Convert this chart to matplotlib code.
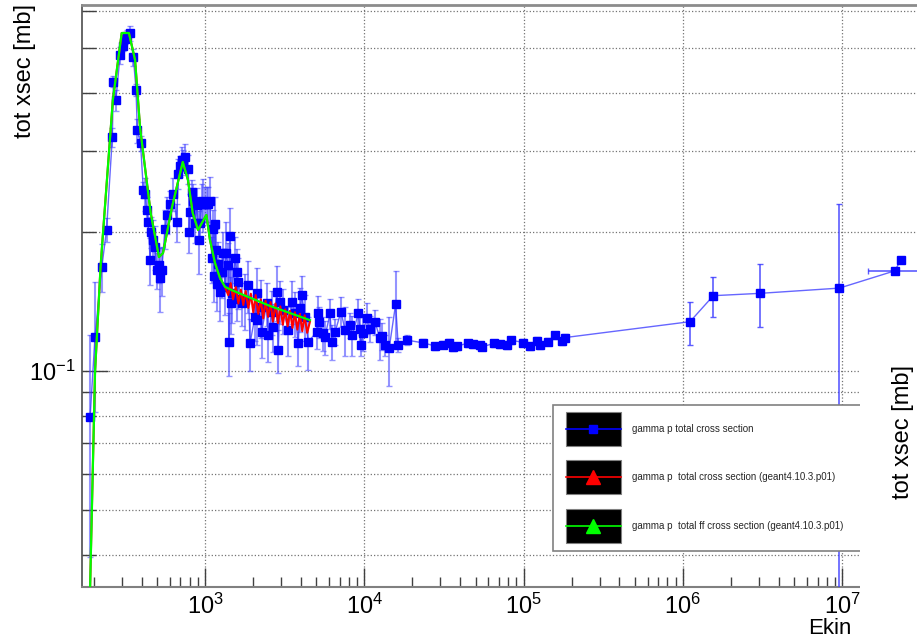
# gamma p total cross section: data vs geant4 (ROOT-like look)
import math
import matplotlib
matplotlib.use("Agg")
import matplotlib.pyplot as plt
import matplotlib.ticker as mticker
from matplotlib.patches import Rectangle
from matplotlib.lines import Line2D

plt.rcParams['font.family'] = ['Liberation Sans', 'DejaVu Sans']
plt.rcParams['mathtext.fontset'] = 'custom'
plt.rcParams['mathtext.rm'] = 'Liberation Sans'
plt.rcParams['mathtext.it'] = 'Liberation Sans:italic'
plt.rcParams['mathtext.default'] = 'regular'

# measured data (MeV, mb)
ekin_meas = [190, 204, 225, 241, 262, 266, 276, 293, 304, 315, 322, 338, 355, 369, 376, 394,
             410, 420, 430, 441, 452, 460, 473, 486, 497, 515, 522, 535, 561, 575, 603, 632,
             664, 680, 697, 714, 725, 749, 786, 796, 805, 825, 845, 865, 887, 921, 930, 953,
             976, 1000, 1025, 1049, 1075, 1102, 1127, 1140, 1156, 1170, 1184, 1212, 1242, 1273,
             1304, 1335, 1345, 1401, 1410, 1435, 1450, 1471, 1543, 1581, 1590, 1619, 1700, 1782,
             1870, 1918, 2058, 2110, 2120, 2263, 2270, 2442, 2500, 2624, 2680, 2822, 2883, 2954,
             3103, 3330, 3500, 3670, 3850, 3950, 4045, 4240, 4450, 5030, 5150, 5160, 5540, 5660,
             6100, 6240, 6560, 7140, 7570, 8120, 8430, 9160, 9400, 9530, 9840, 10330, 10820,
             11670, 12530, 12830, 13470, 14330, 15720, 16330, 18420, 23400, 27900, 31400, 34100,
             36100, 38000, 44600, 48400, 53000, 55100, 65300, 71000, 78400, 83000, 99600, 109500,
             120600, 126500, 143000, 158000, 174000, 183000]
xsec_meas = [0.0795, 0.1186, 0.168, 0.202, 0.321, 0.423, 0.386, 0.483, 0.504, 0.522, 0.532, 0.538,
             0.478, 0.406, 0.332, 0.311, 0.2465, 0.242, 0.2231, 0.2104, 0.1739, 0.200, 0.192,
             0.1856, 0.1655, 0.170, 0.1594, 0.1655, 0.2034, 0.2177, 0.2298, 0.242, 0.2104, 0.2676,
             0.2775, 0.2859, 0.2859, 0.2904, 0.2741, 0.200, 0.2211, 0.2441, 0.2336, 0.209, 0.2287,
             0.192, 0.209, 0.2336, 0.2298, 0.2298, 0.2298, 0.2298, 0.2336, 0.1754, 0.2034, 0.1609,
             0.2076, 0.1826, 0.1546, 0.1705, 0.1484, 0.1641, 0.1797, 0.1522, 0.1797, 0.1695,
             0.1157, 0.1957, 0.1402, 0.1473, 0.1754, 0.164, 0.1435, 0.1561, 0.1402, 0.1425,
             0.1534, 0.1148, 0.1312, 0.1473, 0.1289, 0.1377, 0.1216, 0.1402, 0.1196, 0.1344,
             0.1248, 0.1484, 0.111, 0.1413, 0.1355, 0.1227, 0.1413, 0.1333, 0.1148, 0.1366,
             0.1459, 0.1312, 0.1157, 0.1216, 0.1333, 0.1279, 0.1206, 0.1186, 0.1333, 0.1157,
             0.1216, 0.1344, 0.1227, 0.1257, 0.1196, 0.1333, 0.1236, 0.1138, 0.1206, 0.1301,
             0.1236, 0.1279, 0.1177, 0.1190, 0.1138, 0.1120, 0.1394, 0.1138, 0.1167, 0.1151,
             0.1133, 0.1140, 0.1151, 0.1125, 0.1133, 0.1148, 0.1144, 0.1138, 0.1129, 0.1148,
             0.1142, 0.1138, 0.1167, 0.1153, 0.1133, 0.1163, 0.1138, 0.1157, 0.1196, 0.1161, 0.1182]
err_meas = [0.04, 0.037, 0.02, 0.012, 0.015, 0.012, 0.02, 0.02, 0.012, 0.012, 0.015, 0.02,
            0.02, 0.012, 0.02, 0.012, 0.01, 0.02, 0.015, 0.01, 0.02, 0.015, 0.02, 0.02, 0.015,
            0.015, 0.025, 0.02, 0.02, 0.02, 0.015, 0.02, 0.02, 0.02, 0.015, 0.02, 0.015, 0.02,
            0.02, 0.02, 0.02, 0.015, 0.02, 0.02, 0.02, 0.03, 0.02, 0.02, 0.03, 0.02, 0.02, 0.02,
            0.03, 0.02, 0.02, 0.02, 0.03, 0.02, 0.02, 0.02, 0.02, 0.02, 0.02, 0.02, 0.03, 0.02,
            0.018, 0.03, 0.02, 0.02, 0.02, 0.02, 0.015, 0.02, 0.015, 0.02, 0.02, 0.015, 0.015,
            0.02, 0.015, 0.02, 0.015, 0.015, 0.015, 0.015, 0.015, 0.02, 0.012, 0.015, 0.015,
            0.015, 0.015, 0.015, 0.012, 0.015, 0.015, 0.015, 0.015, 0.01, 0.012, 0.01, 0.01,
            0.01, 0.01, 0.01, 0.008, 0.01, 0.015, 0.008, 0.012, 0.01, 0.008, 0.006, 0.01, 0.01,
            0.008, 0.008, 0.012, 0.008, 0.006, 0.019, 0.025, 0.004, 0.003, 0.002, 0.002, 0.002,
            0.002, 0.002, 0.002, 0.002, 0.002, 0.002, 0.002, 0.002, 0.002, 0.002, 0.002, 0.002,
            0.002, 0.002, 0.002, 0.002, 0.002, 0.002, 0.002]

# high energy points, asymmetric errors
ekin_high = [1.108e6, 1.553e6, 3.05e6, 9.6e6, 2.14e7, 2.33e7]
xsec_high = [0.1279, 0.1456, 0.1473, 0.1512, 0.1648, 0.1739]
yerr_high_lo = [0.0141, 0.015, 0.023, 0.14, 0.0, 0.0]
yerr_high_hi = [0.013, 0.0144, 0.0229, 0.0783, 0.0, 0.0]
xerr_high_lo = [0, 0, 0, 0, 0.68e7, 0]
xerr_high_hi = [0, 0, 0, 0, 1.0e7, 0]

# geant4 total ff cross section
ekin_ff = [180, 190, 204, 221, 229, 264, 300, 333, 364, 391, 420, 456, 514, 545, 621, 725,
           782, 837, 904, 1020, 1075, 1156, 1242, 1335, 1471, 2560, 4560]
xsec_ff = [0.02, 0.034, 0.0995, 0.168, 0.199, 0.386, 0.539, 0.539, 0.471, 0.337, 0.276, 0.220,
           0.1765, 0.180, 0.2265, 0.2835, 0.259, 0.220, 0.202, 0.2177, 0.192, 0.1713, 0.159,
           0.1522, 0.1497, 0.1383, 0.1289]

# geant4 total cross section
ekin_g4 = [180, 190, 204, 221, 229, 264, 300, 333, 364, 391, 420, 456, 514, 545, 621, 725,
           782, 837, 904, 1020, 1075, 1156, 1242, 1335, 1400, 1450, 1500, 1560, 1620, 1680,
           1740, 1800, 1870, 1940, 2010, 2080, 2160, 2240, 2320, 2400, 2490, 2580, 2670, 2770,
           2870, 2970, 3080, 3190, 3300, 3420, 3540, 3670, 3800, 3940, 4080, 4220, 4380, 4560]
xsec_g4 = [0.02, 0.034, 0.0995, 0.168, 0.199, 0.386, 0.539, 0.539, 0.471, 0.337, 0.276, 0.220,
           0.1765, 0.180, 0.2265, 0.2835, 0.259, 0.220, 0.202, 0.2177, 0.192, 0.1713, 0.159,
           0.152, 0.146, 0.155, 0.143, 0.152, 0.140, 0.150, 0.139, 0.149, 0.137, 0.147, 0.134,
           0.146, 0.133, 0.143, 0.130, 0.142, 0.131, 0.141, 0.128, 0.140, 0.127, 0.138, 0.126,
           0.136, 0.125, 0.135, 0.124, 0.134, 0.123, 0.133, 0.122, 0.132, 0.121, 0.128]

labels = ["gamma p total cross section",
          "gamma p  total cross section (geant4.10.3.p01)",
          "gamma p  total ff cross section (geant4.10.3.p01)"]

W, H = 917, 638
def fx(px):
    return px / W
def fy(py):
    return 1 - py / H

fig = plt.figure(figsize=(W / 100, H / 100), dpi=100)
ax = fig.add_axes([fx(82), fy(587), (W - 82) / W, (587 - 5) / H])
ax.set_xscale('log')
ax.set_yscale('log')
ax.set_xlim(169.0, 2.949e7)
ax.set_ylim(0.0341, 0.6197)

blue = '#0000ff'
ebar = (0.3, 0.3, 1.0, 0.6)

ax.errorbar(ekin_meas, xsec_meas, yerr=err_meas, fmt='none', ecolor=ebar,
            elinewidth=1.5, capsize=2, capthick=1, zorder=3)
ax.errorbar(ekin_high, xsec_high, yerr=[yerr_high_lo, yerr_high_hi],
            xerr=[xerr_high_lo, xerr_high_hi], fmt='none', ecolor=(0.25, 0.25, 1.0, 0.85),
            elinewidth=1.2, capsize=2, capthick=1, zorder=3)
all_e = ekin_meas + ekin_high
all_s = xsec_meas + xsec_high
ax.plot(all_e, all_s, color=(0.2, 0.2, 1.0, 0.75), lw=1.0, zorder=4)
ax.plot(all_e, all_s, 's', ms=6, color=blue, mec=blue, ls='none', zorder=5)
ax.plot(ekin_g4, xsec_g4, color='#ff0000', lw=1.5, zorder=6)
ax.plot(ekin_ff, xsec_ff, color='#00ff00', lw=1.6, zorder=7)

# axes cosmetics, ROOT style
ax.xaxis.set_major_locator(mticker.FixedLocator([1e3, 1e4, 1e5, 1e6, 1e7]))
ax.xaxis.set_minor_locator(mticker.LogLocator(base=10, subs=range(2, 10), numticks=20))
ax.xaxis.set_major_formatter(mticker.FuncFormatter(lambda v, p: r'$10^{%d}$' % round(math.log10(v))))
ax.xaxis.set_minor_formatter(mticker.NullFormatter())
ax.yaxis.set_major_locator(mticker.FixedLocator([0.1]))
ax.yaxis.set_minor_locator(mticker.FixedLocator([0.04, 0.05, 0.06, 0.07, 0.08, 0.09,
                                                 0.2, 0.3, 0.4, 0.5, 0.6]))
ax.yaxis.set_major_formatter(mticker.FixedFormatter([r'$10^{-1}$']))
ax.yaxis.set_minor_formatter(mticker.NullFormatter())

ax.tick_params(axis='x', which='major', direction='in', length=13.5, width=1.0,
               color='0.25', labelsize=17, pad=5)
ax.tick_params(axis='x', which='minor', direction='in', length=7, width=1.0, color='0.25')
ax.tick_params(axis='y', which='major', direction='in', length=18.5, width=1.0,
               color='0.25', labelsize=17, pad=5)
ax.tick_params(axis='y', which='minor', direction='in', length=10, width=1.0, color='0.25')

ax.grid(True, which='major', axis='x', ls=':', color='0.45', lw=0.9)
ax.grid(True, which='both', axis='y', ls=':', color='0.45', lw=0.9)
ax.set_axisbelow(True)

ax.spines['right'].set_visible(False)
ax.spines['top'].set_color('0.55')
ax.spines['top'].set_linewidth(2)
ax.spines['left'].set_color('0.3')
ax.spines['left'].set_linewidth(1.2)
ax.spines['bottom'].set_color('0.5')
ax.spines['bottom'].set_linewidth(1.5)

fig.text(fx(25), fy(4), 'tot xsec [mb]', rotation=90, ha='center', va='top', fontsize=17)
fig.text(fx(852), fy(634), 'Ekin', ha='right', va='baseline', fontsize=16)

# legend box
fig.add_artist(Rectangle((fx(553), fy(551)), (875 - 553) / W, (551 - 405) / H,
                         transform=fig.transFigure, facecolor='white', edgecolor='0.5',
                         lw=1.2, zorder=8))
rows_y = [429, 477, 526]
styles = [(blue, 's', 6), ('#ff0000', '^', 10), ('#00ff00', '^', 10)]
for yy, lab, (col, mk, ms) in zip(rows_y, labels, styles):
    fig.add_artist(Rectangle((fx(565.7), fy(yy + 16.7)), (621 - 565.7) / W, 33.4 / H,
                             transform=fig.transFigure, facecolor='black', edgecolor='0.5',
                             lw=0.8, zorder=9))
    fig.add_artist(Line2D([fx(565.7), fx(621)], [fy(yy), fy(yy)], transform=fig.transFigure,
                          color=col, lw=1.2, zorder=9.5))
    fig.add_artist(Line2D([fx(593)], [fy(yy)], transform=fig.transFigure, marker=mk,
                          ms=ms, color=col, mec=col, ls='none', zorder=9.6))
    fig.text(fx(632), fy(yy), lab, ha='left', va='center', fontsize=7, color='0.15', zorder=9.6)

# white pad on the right hiding the frame edge
fig.add_artist(Rectangle((fx(860), 0), (W - 860) / W, fy(300), transform=fig.transFigure,
                         facecolor='white', edgecolor='none', zorder=10))
fig.text(fx(903), fy(432), 'tot xsec [mb]', rotation=90, ha='center', va='center',
         fontsize=17, zorder=11)

fig.savefig('out.png', dpi=100)
